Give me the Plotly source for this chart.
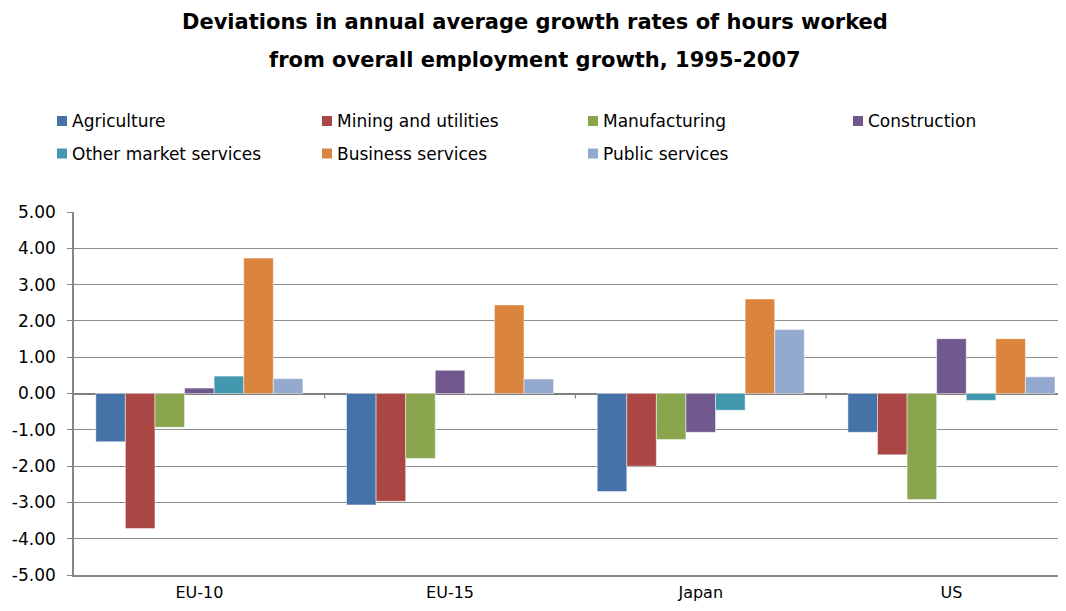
import plotly.graph_objects as go

# regions on the x axis
regions = ["EU-10", "EU-15", "Japan", "US"]

# deviations of hours worked growth from overall employment growth (pp)
agriculture = [-1.33, -3.07, -2.70, -1.07]
mining_utilities = [-3.72, -2.97, -2.00, -1.69]
manufacturing = [-0.93, -1.79, -1.27, -2.92]
construction = [0.15, 0.64, -1.07, 1.51]
other_market = [0.48, 0.0, -0.46, -0.19]
business = [3.73, 2.44, 2.60, 1.51]
public = [0.41, 0.40, 1.76, 0.46]

sectors = ["Agriculture", "Mining and utilities", "Manufacturing", "Construction",
           "Other market services", "Business services", "Public services"]
series = [agriculture, mining_utilities, manufacturing, construction,
          other_market, business, public]
colors = ["#4572A7", "#AA4643", "#89A54E", "#71588F", "#4198AF", "#DB843D", "#93A9CF"]

yticks = [5, 4, 3, 2, 1, 0, -1, -2, -3, -4, -5]
ytick_labels = ["5.00", "4.00", "3.00", "2.00", "1.00", "0.00",
                "-1.00", "-2.00", "-3.00", "-4.00", "-5.00"]

FONT = "DejaVu Sans, Arial, sans-serif"

# figure sits inside the page body (8px margin), so size it to fit the window
W, H = 1050, 595
L, R, T, B = 66, 0, 204, 28
pw, ph = W - L - R, H - T - B


def px(x):  # figure pixel -> paper x
    return (x - L) / pw


def py(y):  # figure pixel -> paper y
    return (H - B - y) / ph


fig = go.Figure()
for name, vals, col in zip(sectors, series, colors):
    fig.add_trace(go.Bar(x=regions, y=vals, name=name, showlegend=False,
                         marker=dict(color=col, line=dict(color="rgba(255,255,255,0.6)", width=0.8))))

# small tick marks on the zero line between categories
for b in [0.5, 1.5, 2.5, 3.5]:
    fig.add_shape(type="line", xref="x", yref="y", ysizemode="pixel", yanchor=0,
                  x0=b, x1=b, y0=0, y1=-5, line=dict(color="#868686", width=1.2))

# legend drawn as key squares + labels, 4 per row like the original
leg_cols = [49, 314, 580, 845]
leg_rows = [113, 145.5]
annotations = []
for i, (name, col) in enumerate(zip(sectors, colors)):
    cx = leg_cols[i % 4]
    cy = leg_rows[i // 4]
    fig.add_shape(type="rect", xref="paper", yref="paper",
                  xsizemode="pixel", ysizemode="pixel",
                  xanchor=px(cx), yanchor=py(cy), x0=0, x1=10, y0=-5, y1=5,
                  fillcolor=col, line=dict(width=0))
    annotations.append(dict(text=name, xref="paper", yref="paper",
                            x=px(cx + 13), y=py(cy), xanchor="left", yanchor="middle",
                            showarrow=False, font=dict(family=FONT, size=17, color="black")))

# two-line bold title
for txt, ty in [("Deviations in annual average growth rates of hours worked", 14),
                ("from overall employment growth, 1995-2007", 52)]:
    annotations.append(dict(text="<b>" + txt + "</b>", xref="paper", yref="paper",
                            x=px(527), y=py(ty), xanchor="center", yanchor="middle",
                            showarrow=False, font=dict(family=FONT, size=21, color="black")))

fig.update_layout(
    width=W, height=H,
    margin=dict(l=L, r=R, t=T, b=B, autoexpand=False),
    paper_bgcolor="white", plot_bgcolor="white",
    font=dict(family=FONT, size=17, color="black"),
    barmode="group", bargap=0.174, bargroupgap=0,
    showlegend=False,
    annotations=annotations,
)
fig.update_xaxes(range=[-0.5, 3.425], showgrid=False, showline=True,
                 linecolor="#868686", linewidth=1.5, ticks="", ticklabelstandoff=2,
                 tickfont=dict(size=16), zeroline=False, automargin=False)
fig.update_yaxes(range=[-5, 5], tickvals=yticks, ticktext=ytick_labels,
                 showgrid=True, gridcolor="#8c8c8c", gridwidth=1.2,
                 zeroline=True, zerolinecolor="#808080", zerolinewidth=1.6,
                 showline=True, linecolor="#868686", linewidth=1.5,
                 ticks="outside", ticklen=5, tickcolor="#868686",
                 ticklabelstandoff=8, tickfont=dict(size=17), automargin=False)

fig.write_html("out.html")
